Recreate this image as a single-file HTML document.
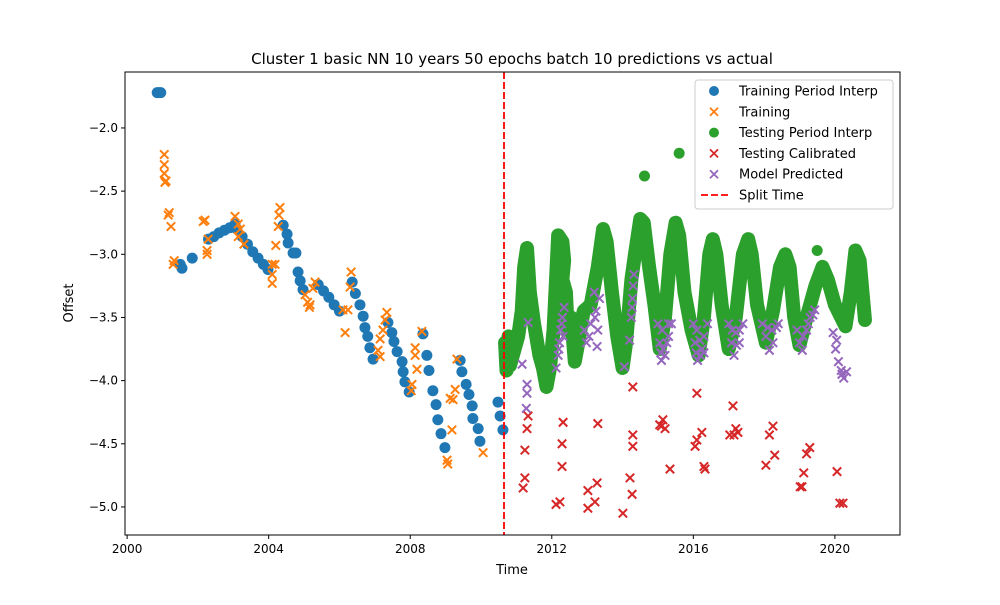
<!DOCTYPE html>
<html><head><meta charset="utf-8"><style>
body{margin:0;background:#fff;font-family:"Liberation Sans","DejaVu Sans",sans-serif}
svg text{font-family:"DejaVu Sans","Liberation Sans",sans-serif}
</style></head><body>
<svg id="c" width="1000" height="600" xmlns="http://www.w3.org/2000/svg">
<rect width="1000" height="600" fill="#fff"/>
<text x="512" y="64" text-anchor="middle" font-size="15">Cluster 1 basic NN 10 years 50 epochs batch 10 predictions vs actual</text>
<text x="512" y="574" text-anchor="middle" font-size="13">Time</text>
<text x="73" y="303" text-anchor="middle" font-size="13" transform="rotate(-90 73 303)">Offset</text>
<g id="marks"></g>
<g id="axes"></g>
<g id="legend"></g>
</svg>
<script>
const xTicks=[2000,2004,2008,2012,2016,2020];
const yTicks=[-2.0,-2.5,-3.0,-3.5,-4.0,-4.5,-5.0];
const splitTime=2010.65;
const trainInterp=[[2000.85,-1.72],[2000.9,-1.72],[2000.95,-1.72],[2001.5,-3.08],[2001.55,-3.11],[2001.84,-3.03],
[2002.3,-2.88],[2002.45,-2.86],[2002.6,-2.83],[2002.75,-2.81],[2002.9,-2.79],[2003.05,-2.76],
[2003.1,-2.8],[2003.25,-2.86],[2003.4,-2.92],[2003.55,-2.98],[2003.7,-3.03],[2003.85,-3.08],[2003.98,-3.12],
[2004.41,-2.77],[2004.52,-2.84],[2004.55,-2.91],[2004.69,-2.99],[2004.77,-2.99],[2004.83,-3.14],[2004.89,-3.21],[2004.97,-3.28],
[2005.4,-3.24],[2005.55,-3.29],[2005.7,-3.34],[2005.85,-3.4],[2006.0,-3.45],
[2006.36,-3.22],[2006.45,-3.31],[2006.58,-3.4],[2006.67,-3.49],[2006.72,-3.58],[2006.8,-3.65],[2006.86,-3.74],[2006.95,-3.83],
[2007.37,-3.54],[2007.48,-3.62],[2007.54,-3.69],[2007.63,-3.77],[2007.77,-3.85],[2007.8,-3.93],[2007.85,-4.01],[2007.97,-4.09],
[2008.36,-3.63],[2008.47,-3.8],[2008.53,-3.92],[2008.64,-4.08],[2008.73,-4.19],[2008.78,-4.31],[2008.87,-4.42],[2008.98,-4.53],
[2009.41,-3.84],[2009.46,-3.93],[2009.58,-4.03],[2009.66,-4.11],[2009.75,-4.2],[2009.77,-4.3],[2009.92,-4.38],[2009.97,-4.48],
[2010.48,-4.17],[2010.54,-4.28],[2010.62,-4.39]];
const training=[[2001.05,-2.21],[2001.05,-2.29],[2001.05,-2.36],[2001.07,-2.43],[2001.1,-2.42],[2001.16,-2.69],[2001.19,-2.67],[2001.24,-2.78],[2001.33,-3.05],[2001.3,-3.08],
[2002.15,-2.74],[2002.2,-2.73],[2002.29,-2.88],[2002.26,-2.97],[2002.26,-3.0],
[2003.05,-2.7],[2003.14,-2.76],[2003.2,-2.8],[2003.14,-2.86],[2003.3,-2.92],
[2004.32,-2.63],[2004.29,-2.69],[2004.27,-2.78],[2004.2,-2.93],[2004.1,-3.08],[2004.18,-3.08],[2004.1,-3.16],[2004.1,-3.23],
[2005.03,-3.32],[2005.17,-3.4],[2005.1,-3.38],[2005.31,-3.22],[2005.25,-3.27],[2005.15,-3.42],
[2006.1,-3.44],[2006.24,-3.44],[2006.16,-3.62],[2006.33,-3.14],[2006.3,-3.26],
[2007.34,-3.46],[2007.29,-3.52],[2007.23,-3.6],[2007.15,-3.67],[2007.09,-3.76],[2007.15,-3.81],
[2008.33,-3.61],[2008.14,-3.74],[2008.14,-3.8],[2008.19,-3.91],[2008.05,-4.03],[2008.03,-4.08],
[2009.32,-3.83],[2009.27,-4.07],[2009.21,-4.15],[2009.13,-4.14],[2009.18,-4.39],[2009.04,-4.63],[2009.06,-4.66],[2010.06,-4.57]];
const testInterp=[[2010.68,-3.7],[2010.72,-3.92],[2010.78,-3.65],[2010.82,-3.88],
[2011.05,-3.65],[2011.15,-3.45],[2011.22,-3.1],[2011.3,-2.95],[2011.38,-3.3],[2011.5,-3.55],[2011.65,-3.8],[2011.75,-3.9],[2011.85,-4.05],
[2011.95,-3.9],[2012.05,-3.6],[2012.12,-3.2],[2012.18,-2.85],[2012.3,-2.9],[2012.35,-3.05],[2012.3,-3.2],[2012.4,-3.3],[2012.45,-3.6],[2012.55,-3.5],[2012.65,-3.85],[2012.75,-3.7],[2012.9,-3.45],[2013.1,-3.4],
[2013.3,-3.1],[2013.45,-2.8],[2013.55,-2.9],[2013.7,-3.3],[2013.85,-3.65],[2014.0,-3.9],
[2014.1,-3.7],[2014.25,-3.2],[2014.35,-3.0],[2014.5,-2.72],[2014.6,-2.75],[2014.75,-3.1],[2014.9,-3.4],[2015.05,-3.75],
[2015.2,-3.5],[2015.35,-3.0],[2015.5,-2.75],[2015.6,-2.85],[2015.75,-3.3],[2015.95,-3.6],[2016.15,-3.8],
[2016.3,-3.5],[2016.45,-3.0],[2016.55,-2.88],[2016.65,-3.0],[2016.8,-3.4],[2017.0,-3.75],
[2017.2,-3.5],[2017.4,-3.0],[2017.55,-2.88],[2017.65,-3.0],[2017.8,-3.4],[2018.05,-3.7],
[2018.25,-3.45],[2018.45,-3.1],[2018.6,-3.0],[2018.72,-3.1],[2018.85,-3.5],[2019.0,-3.72],
[2019.2,-3.5],[2019.45,-3.25],[2019.65,-3.1],[2019.8,-3.2],[2020.0,-3.4],[2020.3,-3.57],
[2020.45,-3.3],[2020.58,-2.97],[2020.7,-3.05],[2020.85,-3.52]];
const testSingles=[[2014.62,-2.38],[2015.6,-2.2],[2019.5,-2.97]];
const predicted=[[2011.16,-3.87],[2011.3,-4.03],[2011.3,-4.1],[2011.28,-4.22],[2011.33,-3.54],
[2012.12,-3.9],[2012.18,-3.8],[2012.22,-3.7],[2012.25,-3.6],[2012.3,-3.5],[2012.35,-3.42],[2012.28,-3.55],[2012.32,-3.65],[2012.2,-3.75],
[2012.92,-3.6],[2012.98,-3.7],[2013.05,-3.65],[2013.2,-3.3],[2013.25,-3.45],[2013.3,-3.6],[2013.28,-3.73],[2013.35,-3.35],[2013.1,-3.55],[2013.22,-3.5],
[2014.05,-3.89],[2014.2,-3.68],[2014.25,-3.5],[2014.28,-3.35],[2014.32,-3.16],[2014.3,-3.25],[2014.27,-3.42],
[2015.0,-3.55],[2015.05,-3.7],[2015.1,-3.84],[2015.2,-3.8],[2015.3,-3.65],[2015.38,-3.55],[2015.15,-3.75],[2015.12,-3.6],[2015.25,-3.7],[2015.08,-3.78],[2015.3,-3.55],
[2016.0,-3.55],[2016.05,-3.7],[2016.12,-3.84],[2016.2,-3.8],[2016.3,-3.65],[2016.4,-3.55],[2016.25,-3.75],[2016.1,-3.6],[2016.18,-3.68],[2016.3,-3.78],[2016.08,-3.78],
[2017.0,-3.55],[2017.08,-3.7],[2017.15,-3.8],[2017.22,-3.72],[2017.3,-3.6],[2017.4,-3.55],[2017.1,-3.6],[2017.2,-3.62],[2017.3,-3.7],
[2017.95,-3.55],[2018.05,-3.65],[2018.15,-3.76],[2018.25,-3.7],[2018.35,-3.58],[2018.4,-3.55],[2018.1,-3.58],[2018.22,-3.6],
[2018.93,-3.6],[2019.0,-3.7],[2019.08,-3.76],[2019.2,-3.6],[2019.3,-3.5],[2019.43,-3.44],[2019.1,-3.65],[2019.25,-3.55],[2019.38,-3.48],
[2019.95,-3.62],[2020.02,-3.75],[2020.1,-3.85],[2020.18,-3.92],[2020.25,-3.98],[2020.33,-3.93],[2020.05,-3.68],[2020.2,-3.95]];
const calibrated=[[2011.33,-4.28],[2011.3,-4.38],[2011.24,-4.55],[2011.24,-4.77],[2011.19,-4.85],
[2012.32,-4.33],[2012.29,-4.5],[2012.29,-4.68],[2012.23,-4.96],[2012.12,-4.98],
[2013.3,-4.34],[2013.28,-4.81],[2013.02,-4.87],[2013.22,-4.96],[2013.02,-5.01],
[2014.29,-4.05],[2014.29,-4.43],[2014.29,-4.52],[2014.21,-4.77],[2014.27,-4.9],[2014.01,-5.05],
[2015.05,-4.35],[2015.14,-4.31],[2015.2,-4.38],[2015.1,-4.36],[2015.34,-4.7],
[2016.1,-4.1],[2016.24,-4.41],[2016.1,-4.47],[2016.05,-4.52],[2016.3,-4.68],[2016.33,-4.7],
[2017.12,-4.2],[2017.03,-4.43],[2017.26,-4.41],[2017.2,-4.38],[2017.15,-4.43],
[2018.25,-4.36],[2018.15,-4.43],[2018.3,-4.59],[2018.05,-4.67],
[2019.29,-4.53],[2019.2,-4.58],[2019.12,-4.73],[2019.07,-4.84],[2019.02,-4.84],
[2020.06,-4.72],[2020.14,-4.97],[2020.23,-4.97]];

const NS='http://www.w3.org/2000/svg';
const L=125,R=900,T=72,B=535,x0=1999.94,x1=2021.84,y0=-5.222,y1=-1.557;
const sx=v=>L+(v-x0)/(x1-x0)*(R-L);
const sy=v=>B-(v-y0)/(y1-y0)*(B-T);
function mk(tag,attrs,parent){const e=document.createElementNS(NS,tag);for(const k in attrs)e.setAttribute(k,attrs[k]);parent.appendChild(e);return e;}
const marks=document.getElementById('marks');
const C={blue:'#1f77b4',orange:'#ff7f0e',green:'#2ca02c',red:'#d62728',purple:'#9467bd'};
function dot(p,col,g,name){const e=mk('circle',{cx:sx(p[0]),cy:sy(p[1]),r:5.5,fill:col},g);

}
function cross(p,col,g,name){const x=sx(p[0]),y=sy(p[1]),s=4.2;
const e=mk('path',{d:`M${x-s},${y-s}L${x+s},${y+s}M${x-s},${y+s}L${x+s},${y-s}`,stroke:col,'stroke-width':2,fill:'none'},g);

}
const gB=mk('g',{},marks);
trainInterp.forEach(p=>dot(p,C.blue,gB,'training-interp-point'));
const gO=mk('g',{},marks);
training.forEach(p=>cross(p,C.orange,gO,'training-point'));
const gG=mk('g',{},marks);
const band=mk('polyline',{points:testInterp.map(p=>sx(p[0])+','+sy(p[1])).join(' '),fill:'none',stroke:C.green,'stroke-width':14,'stroke-linejoin':'round','stroke-linecap':'round'},gG);


testInterp.forEach(p=>dot(p,C.green,gG,'testing-interp-point'));
testSingles.forEach(p=>dot(p,C.green,gG,'testing-interp-point'));
const gR=mk('g',{},marks);
calibrated.forEach(p=>cross(p,C.red,gR,'testing-calibrated-point'));
const gP=mk('g',{},marks);
predicted.forEach(p=>cross(p,C.purple,gP,'model-predicted-point'));
const sl=mk('line',{x1:sx(splitTime),x2:sx(splitTime),y1:T,y2:B,stroke:'red','stroke-width':1.8,'stroke-dasharray':'7,3'},marks);



const ax=document.getElementById('axes');
const fr=mk('rect',{x:L,y:T,width:R-L,height:B-T,fill:'none',stroke:'#000','stroke-width':1},ax);


xTicks.forEach(t=>{const x=sx(t);mk('line',{x1:x,x2:x,y1:B,y2:B+4,stroke:'#000'},ax);
const tx=mk('text',{x:x,y:B+18,'text-anchor':'middle','font-size':12},ax);tx.textContent=t;

});
yTicks.forEach(t=>{const y=sy(t);mk('line',{x1:L-4,x2:L,y1:y,y2:y,stroke:'#000'},ax);
const tx=mk('text',{x:L-7,y:y+4,'text-anchor':'end','font-size':12},ax);tx.textContent='\u2212'+Math.abs(t).toFixed(1);

});

const lg=document.getElementById('legend');


mk('rect',{x:695,y:80,width:198,height:129,rx:3,fill:'#fff','fill-opacity':0.8,stroke:'#ccc'},lg);
const entries=[['Training Period Interp','dot',C.blue],['Training','x',C.orange],['Testing Period Interp','dot',C.green],['Testing Calibrated','x',C.red],['Model Predicted','x',C.purple],['Split Time','line','red']];
entries.forEach((en,i)=>{const y=91+i*20.8;const g=mk('g',{},lg);


if(en[1]==='dot')mk('circle',{cx:714,cy:y,r:5,fill:en[2]},g);
else if(en[1]==='x')mk('path',{d:`M710,${y-4}L718,${y+4}M710,${y+4}L718,${y-4}`,stroke:en[2],'stroke-width':1.8},g);
else mk('line',{x1:701,x2:728,y1:y,y2:y,stroke:'red','stroke-width':1.8,'stroke-dasharray':'7,3'},g);
const t=mk('text',{x:739,y:y+4.5,'font-size':13},g);t.textContent=en[0];});
</script>
</body></html>
